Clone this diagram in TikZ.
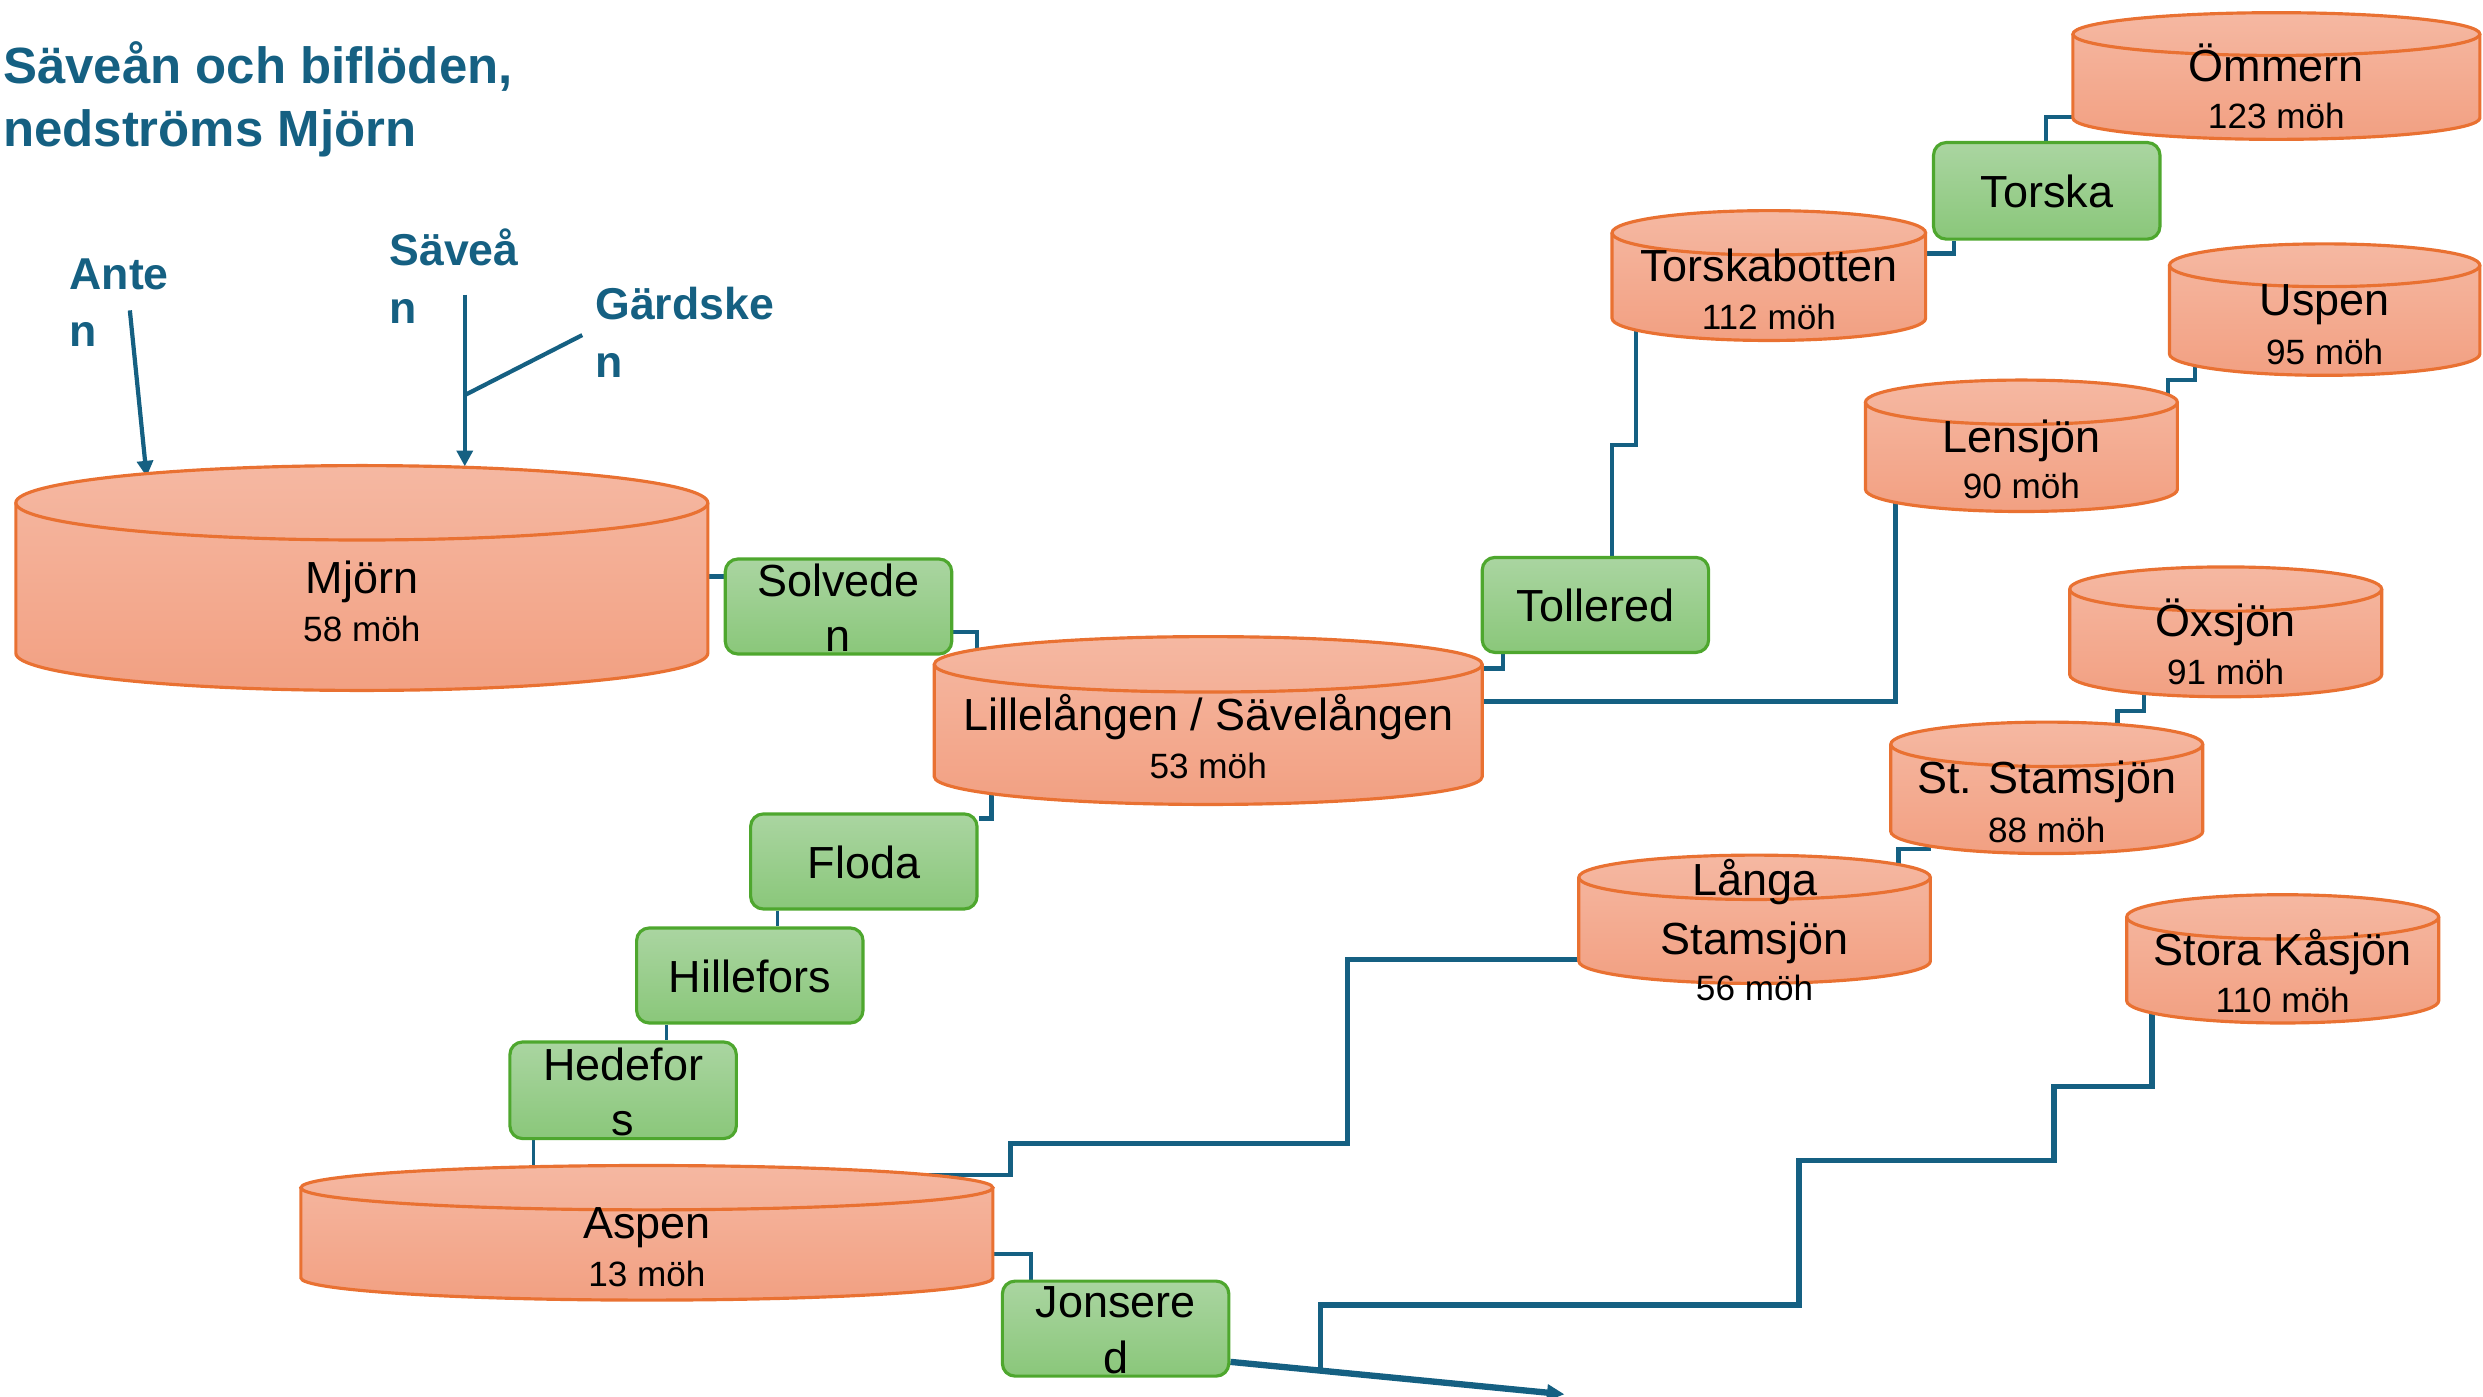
\documentclass[tikz,border=0pt]{standalone}
\usepackage{fontspec}
\setmainfont{Liberation Sans}
\usetikzlibrary{arrows.meta,fit}
\definecolor{riv}{HTML}{156082}
\definecolor{lktop}{HTML}{F5B8A2}
\definecolor{lkbot}{HTML}{F2A082}
\definecolor{lkline}{HTML}{E97132}
\definecolor{gtop}{HTML}{AAD5A1}
\definecolor{gbot}{HTML}{8AC77A}
\definecolor{gline}{HTML}{4EA72E}
\pgfdeclarelayer{background}
\pgfsetlayers{background,main}
\tikzset{
  conn/.style={draw=riv, line width=1.3pt},
  thinconn/.style={draw=riv, line width=0.9pt},
  riverarrow/.style={draw=riv, line width=1.2pt, -{Triangle[length=4.5pt,width=4.5pt]}},
  outarrow/.style={draw=riv, line width=1.8pt, -{Triangle[length=5pt,width=4.5pt]}},
  lbl/.style={anchor=base, inner sep=0pt, yshift=-0.024cm, font=\fontsize{12.8}{15}\selectfont},
  sublbl/.style={anchor=base, inner sep=0pt, yshift=-0.03cm, font=\fontsize{10}{12}\selectfont},
  rivlbl/.style={anchor=base west, inner sep=0pt, yshift=-0.016cm, text=riv, font=\bfseries\fontsize{12.7}{15}\selectfont},
  ttl/.style={anchor=base west, inner sep=0pt, yshift=-0.016cm, text=riv, font=\bfseries\fontsize{14.5}{17}\selectfont},
  lakeline/.style={draw=lkline, line width=0.9pt},
  gboxst/.style={draw=gline, line width=0.9pt, rounded corners=3.6pt, top color=gtop, bottom color=gbot, inner sep=0pt},
  areabox/.style={inner sep=0pt},
}
% name, L, R, top, bottom, ry
\newcommand\lake[6]{%
  \pgfmathsetmacro\lkrx{(#3-#2)/2}%
  \pgfmathsetmacro\lkcx{(#3+#2)/2}%
  \pgfmathsetmacro\lktc{#4+#6}%
  \pgfmathsetmacro\lkbc{#5-#6}%
  \path[top color=lktop,bottom color=lkbot] (#2,\lktc) -- (#2,\lkbc)
     arc[start angle=180,end angle=0,x radius=\lkrx,y radius=#6] -- (#3,\lktc)
     arc[start angle=0,end angle=-180,x radius=\lkrx,y radius=#6] -- cycle;
  \draw[lakeline] (#2,\lktc) -- (#2,\lkbc)
     arc[start angle=180,end angle=0,x radius=\lkrx,y radius=#6] -- (#3,\lktc);
  \draw[lakeline] (\lkcx,\lktc) ellipse [x radius=\lkrx, y radius=#6];
  \coordinate (#1-nw) at (#2,#4);
  \coordinate (#1-se) at (#3,#5);
  \node[areabox, fit=(#1-nw)(#1-se)] (#1) {};
}
% name, L, R, top, bottom
\newcommand\gbox[5]{%
  \coordinate (#1-nw) at (#2,#4);
  \coordinate (#1-se) at (#3,#5);
  \node[gboxst, fit=(#1-nw)(#1-se)] (#1) {};
}
\begin{document}
\begin{tikzpicture}[x=0.015835cm, y=-0.015835cm]
\useasboundingbox (0,0) rectangle (1568,882);

% title
\node[ttl] (title1) at (1.5,51.5) {Säveån och biflöden,};
\node[ttl] (title2) at (1.5,91.5) {nedströms Mjörn};

% river labels
\node[rivlbl] (ante1) at (43.5,181.5) {Ante};
\node[rivlbl] (ante2) at (43.5,218) {n};
\node[rivlbl] (save1) at (245.5,166.5) {Säveå};
\node[rivlbl] (save2) at (245.5,203) {n};
\node[rivlbl] (gard1) at (375.5,201) {Gärdske};
\node[rivlbl] (gard2) at (375.5,237.5) {n};

% lakes
\lake{mjorn}{10}{447}{294}{436}{23.5}
\lake{lille}{590}{936}{402}{508}{17.5}
\lake{aspen}{190}{627}{736}{821}{14}
\lake{tb}{1018}{1216}{133}{215}{14}
\lake{omm}{1309}{1566}{8}{88}{13.5}
\lake{usp}{1370}{1566}{154}{237}{13.5}
\lake{lens}{1178}{1375}{240}{323}{14}
\lake{oxs}{1307}{1504}{358}{440}{14}
\lake{stst}{1194}{1391}{456}{539}{14}
\lake{langa}{997}{1219}{540}{621}{14}
\lake{kas}{1343}{1540}{565}{646}{14}

\node[lbl] (mjorn-t) at (228.5,373) {Mjörn};
\node[sublbl] (mjorn-h) at (228.5,403.5) {58 möh};
\node[lbl] (lille-t) at (763,460) {Lillelången / Sävelången};
\node[sublbl] (lille-h) at (763,490) {53 möh};
\node[lbl] (aspen-t) at (408.5,780.5) {Aspen};
\node[sublbl] (aspen-h) at (408.5,810.5) {13 möh};
\node[lbl] (tb-t) at (1117,176) {Torskabotten};
\node[sublbl] (tb-h) at (1117,206) {112 möh};
\node[lbl] (omm-t) at (1437.5,50) {Ömmern};
\node[sublbl] (omm-h) at (1437.5,79.5) {123 möh};
\node[lbl] (usp-t) at (1468,197.5) {Uspen};
\node[sublbl] (usp-h) at (1468,228) {95 möh};
\node[lbl] (lens-t) at (1276.5,284) {Lensjön};
\node[sublbl] (lens-h) at (1276.5,313) {90 möh};
\node[lbl] (oxs-t) at (1405.5,400.5) {Öxsjön};
\node[sublbl] (oxs-h) at (1405.5,430.5) {91 möh};
\node[lbl] (stst-t) at (1292.5,499.5) {St. Stamsjön};
\node[sublbl] (stst-h) at (1292.5,530) {88 möh};
\node[lbl] (langa-t1) at (1108,564) {Långa};
\node[lbl] (langa-t2) at (1108,601) {Stamsjön};
\node[sublbl] (langa-h) at (1108,630) {56 möh};
\node[lbl] (kas-t) at (1441.5,608) {Stora Kåsjön};
\node[sublbl] (kas-h) at (1441.5,637.5) {110 möh};

% green boxes (dams / places)
\gbox{solv}{458}{601}{353}{413}
\gbox{floda}{474}{617}{514}{574}
\gbox{hille}{402}{545}{586}{646}
\gbox{hede}{322}{465}{658}{719}
\gbox{jons}{633}{776}{809}{869}
\gbox{toll}{936}{1079}{352}{412}
\gbox{torska}{1221}{1364}{90}{151}

\node[lbl] (solv-t1) at (529.5,375) {Solvede};
\node[lbl] (solv-t2) at (529.5,410) {n};
\node[lbl] (floda-t) at (545.5,553) {Floda};
\node[lbl] (hille-t) at (473.5,625) {Hillefors};
\node[lbl] (hede-t1) at (393.5,680.5) {Hedefor};
\node[lbl] (hede-t2) at (393.5,715.5) {s};
\node[lbl] (jons-t1) at (704.5,830.5) {Jonsere};
\node[lbl] (jons-t2) at (704.5,866) {d};
\node[lbl] (toll-t) at (1007.5,391) {Tollered};
\node[lbl] (torska-t) at (1292.5,129.5) {Torska};

% free ends
\coordinate (anteA) at (82,196);
\coordinate (anteB) at (92.6,301);
\coordinate (saveA) at (293.5,186);
\coordinate (saveB) at (293.5,294.5);
\coordinate (gardA) at (367.7,211.6);
\coordinate (gardB) at (293.5,249.5);
\coordinate (outlet) at (988,880.5);
\coordinate (branch) at (834,865.5);

\begin{pgfonlayer}{background}
% inflows to Mjörn
\draw[riverarrow] (anteA) -- (anteB);
\draw[riverarrow] (saveA) -- (saveB);
\draw[conn, line width=1.2pt] (gardA) -- (gardB);

% main chain
\draw[conn] (mjorn.east |- 0,364) -- (solv.west |- 0,364);
\draw[conn] (solv.east |- 0,399) -| (lille.center -| 617,0);
\draw[conn] (lille.center -| 626,0) |- (floda.east |- 0,517);
\draw[thinconn] (floda.south -| 491,0) -- (hille.north -| 491,0);
\draw[thinconn] (hille.south -| 421,0) -- (hede.north -| 421,0);
\draw[thinconn] (hede.south -| 337,0) -- (aspen.center -| 337,0);
\draw[conn] (aspen.center |- 0,792) -| (jons.north -| 651,0);

% tributaries of Lillelången
\draw[conn] (lille.center |- 0,422) -| (toll.south -| 949,0);
\draw[conn] (lille.center |- 0,443) -| (lens.center -| 1197,0);
\draw[conn] (toll.north -| 1018,0) |- (1033,281) -- (tb.center -| 1033,0);
\draw[conn] (tb.center |- 0,160) -| (torska.south -| 1234,0);
\draw[conn] (torska.north -| 1292,0) |- (omm.center |- 0,74);
\draw[conn] (lens.center -| 1369,0) |- (1386,240) -- (usp.center -| 1386,0);

% tributaries of Aspen
\draw[conn] (aspen.center |- 0,742) -| (638,722) -| (851,606) -- (langa.center |- 0,606);
\draw[conn] (langa.center -| 1199,0) |- (1218,536) -- (stst.center -| 1218,0);
\draw[conn] (stst.center -| 1337,0) |- (1354,449) -- (oxs.center -| 1354,0);

% outflow and Kåsjön
\draw[outarrow] (jons.east |- 0,860) -- (outlet);
\draw[conn, line width=1.5pt] (branch) |- (1136,824) |- (1297,733) |- (1359,686) -- (kas.center -| 1359,0);
\end{pgfonlayer}
\end{tikzpicture}
\end{document}
